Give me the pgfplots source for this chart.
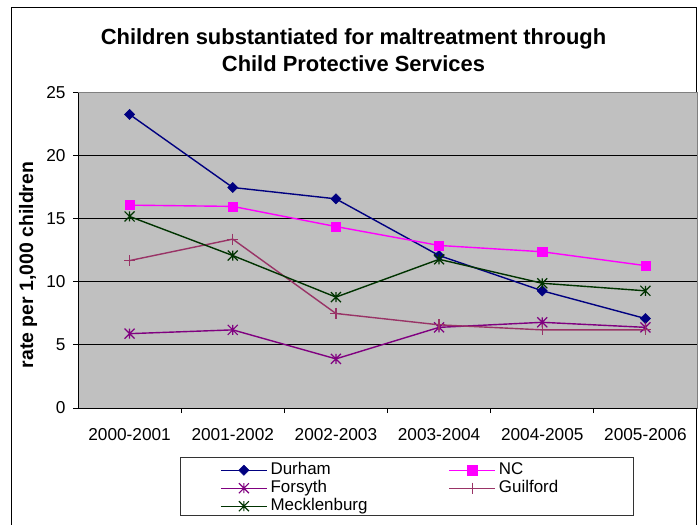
\documentclass[border=0pt]{standalone}
\usepackage{pgfplots}
\pgfplotsset{compat=1.18}
\usepackage{fontspec}
\setmainfont{Liberation Sans}

\definecolor{durham}{HTML}{000080}
\definecolor{nc}{HTML}{FF00FF}
\definecolor{forsyth}{HTML}{800080}
\definecolor{guilford}{HTML}{993366}
\definecolor{meck}{HTML}{003300}
\definecolor{plotbg}{HTML}{C0C0C0}

% star marker: vertical stroke plus a diagonal cross
\pgfdeclareplotmark{xstar}{%
  \pgfpathmoveto{\pgfqpoint{0pt}{-\pgfplotmarksize}}%
  \pgfpathlineto{\pgfqpoint{0pt}{\pgfplotmarksize}}%
  \pgfpathmoveto{\pgfqpoint{-\pgfplotmarksize}{-\pgfplotmarksize}}%
  \pgfpathlineto{\pgfqpoint{\pgfplotmarksize}{\pgfplotmarksize}}%
  \pgfpathmoveto{\pgfqpoint{-\pgfplotmarksize}{\pgfplotmarksize}}%
  \pgfpathlineto{\pgfqpoint{\pgfplotmarksize}{-\pgfplotmarksize}}%
  \pgfusepathqstroke}

\begin{document}
\begin{tikzpicture}
\useasboundingbox (0,0) rectangle (700bp,525bp);
% chart frame
\draw[black, line width=1bp] (11bp,-20bp) -- (11bp,517bp) -- (696.5bp,517bp) -- (696.5bp,-20bp);

\node[font=\bfseries\fontsize{22}{27}\selectfont, align=center]
  at (353.5bp,474.5bp) {Children substantiated for maltreatment through\\Child Protective Services};
\node[rotate=90, anchor=base, font=\bfseries\fontsize{19.5}{20}\selectfont]
  at (33bp,260bp) {rate per 1,000 children};

% legend frame
\draw[black!80, line width=1bp] (180bp,9bp) rectangle (633bp,67bp);

\begin{axis}[
  at={(78bp,117bp)}, anchor=south west,
  scale only axis, width=619bp, height=315bp,
  xmin=-0.5, xmax=5.5, ymin=0, ymax=25,
  xtick={0,...,5},
  xticklabels={2000-2001,2001-2002,2002-2003,2003-2004,2004-2005,2005-2006},
  minor xtick={0.5,1.5,2.5,3.5,4.5},
  ytick={0,5,...,25},
  tick pos=left, tick align=outside,
  major tick length=5bp, minor tick length=5bp,
  major x tick style={draw=none},
  tick style={black, line width=1bp},
  ymajorgrids, grid style={black, line width=1bp},
  axis background/.style={fill=plotbg},
  axis line style={draw=gray, line width=1bp},
  ticklabel style={font=\fontsize{17.3}{17}\selectfont},
  /pgf/number format/assume math mode=true,
  xticklabel style={yshift=-12bp},
  yticklabel style={xshift=-4bp},
  legend columns=2,
  legend cell align=left,
  legend style={draw=none, fill=none, at={(0.2294,-0.1683)}, anchor=north west,
    inner sep=0pt, font=\fontsize{17}{17}\selectfont,
    /tikz/every odd column/.append style={column sep=2bp},
    /tikz/every even column/.append style={column sep=2bp},
    nodes={inner sep=1bp, text height=12.5bp, text depth=3.5bp},
    /tikz/column 2/.style={nodes={text width=175bp}}},
  legend image code/.code={\draw[mark repeat=2,mark phase=2]
    plot coordinates {(0bp,0bp)(23bp,0bp)(46bp,0bp)};},
  every axis plot/.append style={line width=1.4bp},
  clip=false,
]
\addplot[durham, mark=square*, mark size=3.6bp, mark options={rotate=45, solid, fill=durham, line width=0.5bp}]
  coordinates {(0,23.3) (1,17.5) (2,16.6) (3,12.1) (4,9.3) (5,7.1)};
\addlegendentry{Durham}
\addplot[nc, mark=square*, mark size=4.6bp, mark options={solid, fill=nc, line width=0.5bp}]
  coordinates {(0,16.1) (1,16.0) (2,14.4) (3,12.9) (4,12.4) (5,11.3)};
\addlegendentry{NC}
\addplot[forsyth, mark=xstar, mark size=5bp, mark options={solid, line width=1.2bp}]
  coordinates {(0,5.9) (1,6.2) (2,3.9) (3,6.4) (4,6.8) (5,6.4)};
\addlegendentry{Forsyth}
\addplot[guilford, mark=+, mark size=5.5bp, mark options={solid, line width=1.2bp}]
  coordinates {(0,11.7) (1,13.4) (2,7.5) (3,6.6) (4,6.2) (5,6.2)};
\addlegendentry{Guilford}
\addplot[meck, mark=xstar, mark size=5bp, mark options={solid, line width=1.2bp}]
  coordinates {(0,15.2) (1,12.1) (2,8.8) (3,11.8) (4,9.9) (5,9.3)};
\addlegendentry{Mecklenburg}
% value and category axes drawn in black over the grey frame
\draw[black, line width=1bp] (rel axis cs:0,1) -- (rel axis cs:0,0) -- (rel axis cs:1,0);
\end{axis}
\end{tikzpicture}
\end{document}
